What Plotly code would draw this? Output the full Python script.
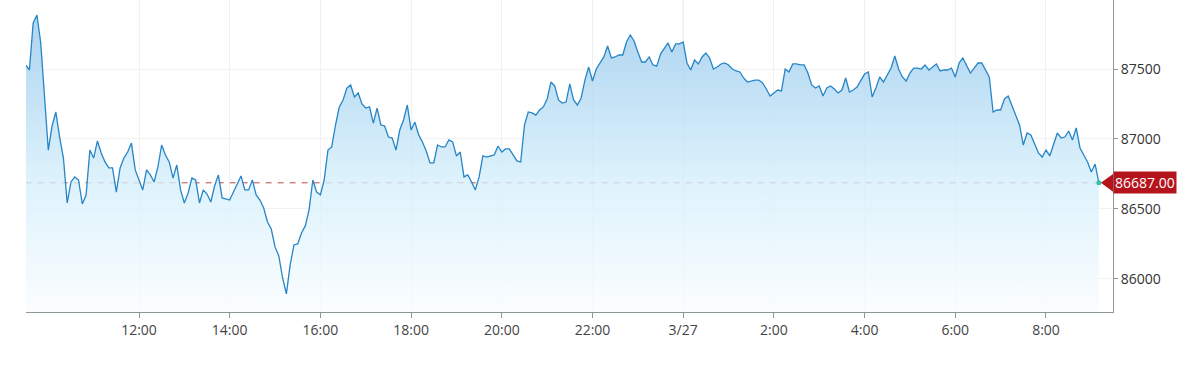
import pandas as pd
import plotly.graph_objects as go

# ---- data (5-minute samples starting 2025-03-26 09:30) ----
start_time = "2025-03-26 09:30"
prices = [
    87529, 87493, 87829, 87886, 87686, 87300, 86921, 87093, 87193, 87014,
    86864, 86543, 86693, 86729, 86707, 86536, 86600, 86921, 86864, 86986,
    86900, 86836, 86793, 86793, 86621, 86793, 86864, 86907, 86971, 86779,
    86707, 86636, 86779, 86743, 86693, 86800, 86957, 86886, 86836, 86721,
    86814, 86636, 86543, 86614, 86721, 86707, 86543, 86636, 86607, 86550,
    86664, 86743, 86579, 86571, 86564, 86621, 86679, 86736, 86636, 86636,
    86707, 86600, 86564, 86507, 86407, 86357, 86229, 86164, 86007, 85893,
    86100, 86243, 86250, 86329, 86379, 86493, 86707, 86621, 86600, 86707,
    86921, 86943, 87100, 87229, 87279, 87364, 87386, 87300, 87329, 87250,
    87221, 87229, 87114, 87221, 87100, 87093, 87014, 87007, 86921, 87064,
    87136, 87243, 87064, 87121, 87029, 86979, 86914, 86829, 86829, 86957,
    86943, 86943, 86993, 86979, 86879, 86907, 86729, 86743, 86693, 86636,
    86729, 86879, 86871, 86879, 86886, 86950, 86907, 86929, 86929, 86886,
    86843, 86836, 87100, 87193, 87186, 87171, 87207, 87229, 87286, 87407,
    87379, 87279, 87257, 87264, 87393, 87279, 87243, 87293, 87421, 87514,
    87414, 87500, 87543, 87586, 87664, 87579, 87586, 87600, 87600, 87693,
    87743, 87700, 87621, 87550, 87550, 87586, 87529, 87521, 87607, 87650,
    87686, 87621, 87679, 87679, 87693, 87543, 87493, 87564, 87536, 87586,
    87614, 87579, 87500, 87514, 87536, 87543, 87529, 87500, 87486, 87479,
    87436, 87407, 87414, 87421, 87421, 87400, 87357, 87307, 87329, 87350,
    87343, 87500, 87479, 87536, 87536, 87529, 87529, 87471, 87386, 87364,
    87379, 87307, 87364, 87379, 87357, 87329, 87350, 87436, 87336, 87350,
    87371, 87421, 87464, 87479, 87300, 87364, 87443, 87407, 87457, 87507,
    87593, 87500, 87443, 87414, 87471, 87507, 87507, 87500, 87529, 87493,
    87514, 87536, 87486, 87493, 87493, 87507, 87443, 87543, 87579, 87529,
    87471, 87507, 87543, 87543, 87493, 87443, 87193, 87207, 87207, 87286,
    87307, 87236, 87171, 87100, 86957, 87043, 87029, 86957, 86900, 86871,
    86921, 86879, 86964, 87043, 87007, 87014, 87057, 86993, 87079, 86936,
    86886, 86836, 86764, 86821, 86687,
]
last_price = 86687.00

x_tick_times = [
    "2025-03-26 12:00", "2025-03-26 14:00", "2025-03-26 16:00", "2025-03-26 18:00",
    "2025-03-26 20:00", "2025-03-26 22:00", "2025-03-27 00:00", "2025-03-27 02:00",
    "2025-03-27 04:00", "2025-03-27 06:00", "2025-03-27 08:00",
]
x_tick_labels = ["12:00", "14:00", "16:00", "18:00", "20:00", "22:00",
                 "3/27", "2:00", "4:00", "6:00", "8:00"]
y_tick_vals = [86000, 86500, 87000, 87500]
y_tick_labels = ["86000", "86500", "87000", "87500"]
x_range = ["2025-03-26 09:30:30", "2025-03-27 09:28:40"]
y_range = [85764, 87993]
day_break = "2025-03-27 00:00"

times = pd.date_range(start=start_time, periods=len(prices), freq="5min")

FONT = "Open Sans, Arial, Liberation Sans"

fig = go.Figure()

# last-price dashed reference line (under the fill)
fig.add_shape(type="line", xref="x", yref="y",
              x0=times[0], x1=times[-1], y0=last_price, y1=last_price,
              line=dict(color="#b84a4a", width=1, dash="6px,6px"), layer="between")
# day separator grid line
fig.add_shape(type="line", xref="x", yref="paper",
              x0=day_break, x1=day_break, y0=0, y1=1,
              line=dict(color="#dcdcdc", width=1), layer="below")

fig.add_trace(go.Scatter(
    x=times, y=prices, mode="lines",
    line=dict(color="#2585c7", width=1.3),
    fill="tozeroy",
    fillgradient=dict(
        type="vertical", start=y_range[0], stop=y_range[1],
        colorscale=[
            [0.0, "rgba(250,253,255,0.8)"],
            [0.42, "rgba(213,239,251,0.8)"],
            [0.81, "rgba(168,211,240,0.8)"],
            [1.0, "rgba(150,200,235,0.8)"],
        ],
    ),
    hoverinfo="skip", showlegend=False,
))

# end-point dot
fig.add_trace(go.Scatter(
    x=[times[-1]], y=[prices[-1]], mode="markers",
    marker=dict(color="#35c0b0", size=5), showlegend=False, hoverinfo="skip",
))

# price tag: arrow + label
fig.add_shape(type="path", xref="x", yref="y",
              xsizemode="pixel", ysizemode="pixel",
              xanchor=times[-1], yanchor=last_price,
              path="M 2,0 L 15,-9.5 L 15,9.5 Z",
              fillcolor="#b5141c", line=dict(width=0), layer="above")
fig.add_annotation(x=times[-1], y=last_price, xref="x", yref="y",
                   text=f"{last_price:.2f}", showarrow=False,
                   xanchor="left", yanchor="middle", xshift=14,
                   bgcolor="#b5141c", borderpad=1,
                   font=dict(family=FONT, size=14, color="white"))

fig.update_layout(
    width=1200, height=372,
    margin=dict(l=26, r=87, t=0, b=60),
    paper_bgcolor="white", plot_bgcolor="white",
    font=dict(family=FONT, size=14, color="#444"),
    showlegend=False,
)
fig.update_xaxes(
    type="date", range=x_range,
    tickmode="array", tickvals=x_tick_times, ticktext=x_tick_labels,
    showgrid=True, gridcolor="#f0f0f0", gridwidth=1,
    showline=True, linecolor="#8c979c", linewidth=1,
    ticks="outside", ticklen=5, tickcolor="#8c979c",
    tickfont=dict(family=FONT, size=14, color="#444"), zeroline=False,
)
fig.update_yaxes(
    side="right", range=y_range,
    tickmode="array", tickvals=y_tick_vals, ticktext=y_tick_labels,
    showgrid=True, gridcolor="#f2f2f2", gridwidth=1,
    showline=True, linecolor="#8c979c", linewidth=1,
    ticks="outside", ticklen=4, tickcolor="#8c979c",
    tickfont=dict(family=FONT, size=14, color="#333"), zeroline=False,
)

fig.write_html("out.html")
